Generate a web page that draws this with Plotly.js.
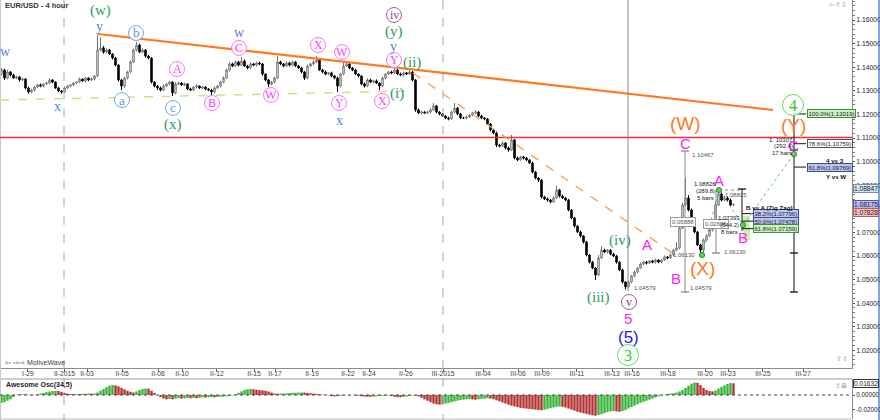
<!DOCTYPE html>
<html><head><meta charset="utf-8">
<script src="https://cdn.plot.ly/plotly-3.0.1.min.js"></script>
<style>html,body{margin:0;padding:0;background:#fff}#chart{width:880px;height:420px}</style>
</head><body><div id="chart"></div>
<script>
// ---- DATA (EUR/USD 4h) ----
const firstOpen = 1.1370;
const closes = [
1.1388,1.1354,1.1380,1.1367,1.1354,1.1359,1.1346,1.1350,1.1312,1.1295,
1.1303,1.1316,1.1325,1.1320,1.1329,1.1333,1.1346,1.1337,1.1312,1.1299,
1.1295,1.1312,1.1320,1.1325,1.1333,1.1337,1.1350,1.1342,1.1354,1.1346,
1.1350,1.1363,1.1473,1.1482,1.1464,1.1473,1.1456,1.1439,1.1409,1.1346,
1.1320,1.1354,1.1380,1.1422,1.1473,1.1494,1.1464,1.1473,1.1447,1.1439,
1.1337,1.1320,1.1312,1.1303,1.1320,1.1329,1.1337,1.1291,1.1329,1.1333,
1.1325,1.1329,1.1308,1.1303,1.1316,1.1320,1.1312,1.1316,1.1308,1.1303,
1.1295,1.1312,1.1320,1.1337,1.1354,1.1388,1.1414,1.1405,1.1422,1.1409,
1.1426,1.1405,1.1397,1.1414,1.1409,1.1418,1.1414,1.1371,1.1346,1.1329,
1.1337,1.1354,1.1422,1.1414,1.1405,1.1418,1.1409,1.1422,1.1405,1.1397,
1.1380,1.1354,1.1405,1.1414,1.1422,1.1430,1.1388,1.1380,1.1371,1.1376,
1.1363,1.1354,1.1320,1.1371,1.1405,1.1414,1.1397,1.1388,1.1371,1.1363,
1.1329,1.1320,1.1346,1.1337,1.1342,1.1333,1.1320,1.1354,1.1371,1.1380,
1.1376,1.1388,1.1371,1.1367,1.1376,1.1371,1.1380,1.1346,1.1219,1.1206,
1.1210,1.1206,1.1210,1.1219,1.1236,1.1210,1.1202,1.1193,1.1185,1.1181,
1.1210,1.1227,1.1202,1.1185,1.1185,1.1189,1.1197,1.1206,1.1210,1.1193,
1.1185,1.1181,1.1159,1.1134,1.1121,1.1070,1.1066,1.1079,1.1058,1.1049,
1.1092,1.1015,1.1007,1.1020,1.1015,1.1007,1.0994,1.0956,1.0930,1.0922,
1.0850,1.0842,1.0837,1.0829,1.0846,1.0880,1.0854,1.0846,1.0837,1.0795,
1.0761,1.0727,1.0702,1.0685,1.0659,1.0604,1.0574,1.0549,1.0520,1.0592,
1.0625,1.0617,1.0625,1.0608,1.0600,1.0574,1.0541,1.0490,1.0469,1.0490,
1.0515,1.0532,1.0549,1.0566,1.0574,1.0570,1.0579,1.0574,1.0583,1.0574,
1.0583,1.0596,1.0592,1.0604,1.0625,1.0634,1.0719,1.0816,1.0846,1.0795,
1.0744,1.0702,1.0647,1.0625,1.0668,1.0685,1.0710,1.0744,1.0816,1.0863,
1.0837,1.0846,1.0837,1.0816,1.0818];
// upper / lower wick lengths in pips
const upWickPips = [
8,5,10,4,6,5,4,6,3,5, 6,4,5,6,3,5,7,4,3,5, 4,6,5,3,5,4,6,3,5,4,
5,4,64,46,8,6,5,4,5,3, 4,6,5,7,6,13,6,8,4,5, 3,4,5,6,7,5,6,4,8,5,
4,6,3,5,4,6,4,5,3,4, 5,6,4,5,7,6,8,5,6,4, 17,6,5,7,4,6,5,4,3,4,
5,6,25,6,4,7,5,6,4,5, 4,3,6,5,7,17,4,5,6,4, 5,4,6,5,17,6,5,4,5,3,
4,6,7,5,4,6,3,6,5,4, 5,13,4,6,5,4,8,4,3,6, 5,4,6,7,12,5,4,3,4,5,
6,21,5,4,5,6,4,5,9,4, 5,4,3,5,4,6,5,7,4,5, 21,4,6,5,4,5,3,6,4,5,
4,5,6,4,7,17,5,6,4,5, 4,5,3,6,4,5,4,5,3,12, 17,6,5,4,6,5,4,5,3,6,
5,6,4,7,5,6,4,5,6,4, 5,6,4,7,6,25,8,10,84,12, 6,5,4,5,6,7,5,8,10,21,
6,8,5,7,4];
const downWickPips = [
6,8,5,6,4,5,7,4,6,8, 5,6,4,5,6,3,5,6,4,5, 8,5,4,6,5,3,5,4,6,5,
4,6,5,6,7,5,4,6,5,7, 17,8,6,5,4,6,5,4,6,5, 6,5,8,6,4,5,4,13,6,5,
4,5,6,4,5,6,4,5,6,4, 13,5,4,6,5,4,6,5,4,6, 5,4,6,5,4,6,5,7,6,13,
6,5,4,6,5,4,6,5,4,5, 6,8,5,4,6,5,4,6,5,4, 6,5,25,6,5,4,6,5,4,6,
5,6,4,5,6,4,17,5,6,4, 5,6,4,5,6,4,5,6,8,5, 6,4,5,6,4,5,6,4,5,6,
4,5,6,4,5,6,4,5,4,6, 5,6,4,6,5,8,6,5,6,7, 4,6,5,4,6,5,4,6,5,8,
6,5,7,6,4,5,6,4,5,6, 5,6,4,7,6,5,6,5,22,6, 5,4,6,5,4,6,5,6,11,6,
4,5,6,4,5,6,4,5,6,4, 5,4,6,5,4,5,6,4,5,6, 5,6,4,12,12,5,4,6,5,4,
6,5,4,6,5];
// Awesome Oscillator (34,5), in units of 0.001
const aoMilli = [
-11,-10,-8,-6,-3,0.5,1,1.2,1,0.5,-0.5,-0.3,
1,2,3,4,5,5.5,5.8,5.5,4.5,3,2,1.5,
1.2,1.4,1.6,1.5,1.8,2,1.9,2.2,3.5,6,8.5,11,13,14,
13.5,12,10,8,6,4.5,3.5,5,7,8.5,9,8.8,6,3,0,-3,-5,
-6,-5.5,-6,-5,-4.5,-5,-4.8,-4.5,-4.6,-4.2,-4.4,-4,
-3.5,-3.6,-3.2,-3,-3.3,-2.8,-2.5,-2.2,-1.8,-1.2,-0.5,
1,3,5,7,8,8.5,8,7.5,7,6.5,6,5,3.5,2,
1.8,2,2.2,2.4,2.6,3,3.2,3.5,3.6,3.4,
3,2.5,2,1.5,1,0.5,0,-0.5,-1.5,-2,-1.8,-1.2,-0.6,-0.2,
-0.3,-0.2,-0.6,-1.2,-1.8,-2.2,-2.4,-2.5,-2.2,-1.8,-1.5,-1.2,-1,-0.8,
-1.5,-2.5,-3,-3.2,-2.8,-2.2,-1.5,-0.8,-0.5,
-2,-4,-6,-8,-10,-12,-13,-13.5,-13,-12,-11,
-10,-9,-8,-7,-6.5,-6,-5.8,-6.2,-6.5,-6,-5.5,-5,-4.5,
-5,-6,-7.5,-9,-10.5,-12,-13.5,-15,-16,-17,-18,-18.5,-19,-19.5,-20,-20.5,-21,-21.5,
-20.5,-19.5,-18.5,-17.5,-16.5,-16,
-16.5,-17.5,-19,-20.5,-22,-23.5,-24.5,-25.5,-26.5,-27.5,-28.5,-29,
-28,-27,-25.5,-24,-23,-22.5,-23,-23.5,
-22.5,-21,-19,-17,-15,-13,-11,-9.5,-8,-6.5,-5,-3.5,-2,-0.5,
0.5,1.5,2,2.5,3.5,5,7,10,13,16,17.5,
17,14,10,7,5.5,5,
6.5,9,11.5,13.5,15.5,16.8,16.3];
// date axis (bar index of each label)
const tickIdx  = [8.8,21,28.5,40.2,52.2,60.2,71.8,84.2,91.2,103.5,115.5,122.5,134.8,147.2,160.5,172.2,180.2,191.8,203.5,210.2,222.2,234.5,242.2,253.8,267.2];
const tickText = ['I-29','II-2015','II-03','II-05','II-08','II-10','II-12','II-15','II-17','II-19','II-22','II-24','II-26','III-2015','III-04','III-06','III-09','III-11','III-13','III-16','III-18','III-20','III-23','III-25','III-27'];
const priceTags = [[1.08847,'#cfe6f5','#6f93ad'],[1.08175,'#b9b9f2','#5a5aa8'],[1.07828,'#f5bcbc','#b06060']];
const aoLast = 0.01632;
const fibRight = [['100.0%(1.12019)',1.12019,'#cdf2c4','#3f8f3f'],['78.6%(1.10759)',1.10759,'#ffffff','#555555'],['61.8%(1.09769)',1.09769,'#bcc4f2','#3c4c9c']];
const fibB = [['38.2%(1.07796)',1.07796,'#bcc4f2','#3c4c9c'],['50.0%(1.07478)',1.07478,'#bcc4f2','#3c4c9c'],['61.8%(1.07159)',1.07159,'#cdf2c4','#3f8f3f']];

// ---- build ----
const N = closes.length;
const idx = closes.map((_, i) => i);
const opens = closes.map((c, i) => i === 0 ? firstOpen : closes[i - 1]);
const highs = closes.map((c, i) => Math.max(opens[i], c) + upWickPips[i] * 1e-4);
const lows  = closes.map((c, i) => Math.min(opens[i], c) - downWickPips[i] * 1e-4);
const ao = aoMilli.map(v => v * 1e-3);
const aoCol = aoMilli.map((v, i) => (i === 0 || v >= aoMilli[i - 1]) ? '#3cb43c' : '#b43434');

const W = 880, H = 420, PW = 852;
const X = px => px / W, Y = py => 1 - py / H;
const pyPrice = p => 20 + (1.16 - p) * 2360;
const SANS = 'Liberation Sans';

const shapes = [];
function line(x0, y0, x1, y1, color, w, dash) {
  shapes.push({type: 'line', xref: 'paper', yref: 'paper', x0: X(x0), y0: Y(y0), x1: X(x1), y1: Y(y1),
    line: {color: color, width: w, dash: dash || 'solid'}});
}
function circ(cx, cy, r, color, fill) {
  shapes.push({type: 'circle', xref: 'paper', yref: 'paper', x0: X(cx - r), x1: X(cx + r), y0: Y(cy + r), y1: Y(cy - r),
    line: {color: color, width: 1}, fillcolor: fill || 'rgba(0,0,0,0)'});
}
const ann = [];
function txt(px, py, t, color, size, family, xa, extra) {
  ann.push(Object.assign({xref: 'paper', yref: 'paper', x: X(px), y: Y(py), text: t, showarrow: false,
    xanchor: xa || 'center', yanchor: 'middle', font: {color: color, size: size, family: family || SANS}}, extra || {}));
}

// frame / separators
line(0, 379, PW, 379, '#9a9a9a', 1);
line(0, 419, PW, 419, '#bbbbbb', 1);
line(0.5, 0, 0.5, 420, '#c8c8c8', 1);
line(879, 0, 879, 420, '#3a66c4', 1.2);
// dashed month separators
line(64, 0, 64, 420, '#a8a8a8', 1, 'dash');
line(443, 0, 443, 420, '#a8a8a8', 1, 'dash');
// trend lines
line(0, 100, 410, 91, '#cde38a', 1.5, 'dash');
line(98, 34, 773, 110, '#ff7a1f', 2.2);
line(0, 137.5, PW, 137.5, '#ff2a2a', 1.5);
line(413, 73, 678, 257, '#ff9a50', 1.3, 'dash');
// vertical gray at wave 5 low
line(628, 0, 628, 291, '#8a8a8a', 1);
// measure tools (gray)
line(685, 151, 685, 292, '#8a8a8a', 1); line(681, 151, 689, 151, '#666', 1); line(681, 292, 689, 292, '#666', 1);
line(716, 190, 716, 253, '#8a8a8a', 1); line(712, 253, 720, 253, '#666', 1);
// B vs A fib tool
shapes.push({type: 'rect', xref: 'paper', yref: 'paper', x0: X(743), x1: X(750), y0: Y(240), y1: Y(216), fillcolor: 'rgba(160,235,130,0.6)', line: {width: 0}});
line(742, 189, 742, 231, '#111', 1); line(738, 189, 746, 189, '#111', 1.3);
fibB.forEach(f => line(742, pyPrice(f[1]), 753, pyPrice(f[1]), '#111', 1));
// Y vs W fib tool
line(794, 106, 794, 292, '#111', 1);
[108, 150, 253, 292].forEach(y => line(790, y, 798, y, '#111', 1.3));
fibRight.forEach(f => line(794, pyPrice(f[1]), 806, pyPrice(f[1]), '#111', 1));
// teal dotted projection
line(702, 255, 719, 190, '#5ab8c8', 1, 'dot');
line(719, 190, 743, 225, '#5ab8c8', 1, 'dot');
line(743, 225, 794, 154, '#5ab8c8', 1, 'dot');
line(719, 190, 742, 190, '#888', 1, 'dot');
// green pivot dots
[[702, 255], [719, 190], [743, 225], [794, 154]].forEach(p => circ(p[0], p[1], 2.6, '#2f8f2f', '#5cd05c'));
// yellow dots at fib box ends
fibB.forEach(f => circ(790, pyPrice(f[1]), 2, '#a09020', '#f2e040'));

// ---- wave labels ----
const ST = {
  g:  {c: '#2f9a62', f: 'Liberation Serif', s: 15},
  b:  {c: '#4f86ea', f: 'Liberation Serif', s: 14},
  bc: {c: '#5b8ff0', f: 'Liberation Serif', s: 13, r: 7.5, rc: '#7aa4f2'},
  m:  {c: '#ff3dff', f: 'Liberation Serif', s: 12, r: 7.5, rc: '#ff70ff'},
  p:  {c: '#8e3f8e', f: 'Liberation Serif', s: 12, r: 7.5, rc: '#a060a0'},
  M:  {c: '#ff22f6', f: 'Liberation Sans', s: 15},
  o:  {c: '#ff7a1f', f: 'Liberation Sans', s: 19},
  B5: {c: '#1c1ce8', f: 'Liberation Sans', s: 17},
  G:  {c: '#2ec82e', f: 'Liberation Serif', s: 16, r: 10.5, rc: '#5ede5e'}
};
const waveLabels = [
  ['(w)',100,10,'g'],['y',99,27,'b'],['w',5,51,'b'],['x',57,106,'b'],
  ['a',122,100,'bc'],['b',136,33,'bc'],['c',173,108,'bc'],['(x)',173,124,'g'],
  ['A',177,69,'m'],['B',212,103,'m'],['C',239,48,'m'],['w',239,33,'b'],['W',271,95,'m'],
  ['X',318,45,'m'],['W',342,52,'m'],['Y',339,103,'m'],['x',339,120,'b'],
  ['iv',394,15,'p'],['(y)',394,32,'g'],['y',393,46,'b'],['Y',394,60,'m'],['(ii)',412,62,'g'],['(i)',397,93,'g'],['X',382,101,'m'],
  ['(W)',685,123,'o'],['C',685,143,'M'],['(iv)',620,240,'g'],['A',647,244,'M'],['B',676,278,'M'],['(X)',702,268,'o'],
  ['A',719,180,'M'],['B',743,237,'M'],['(iii)',598,297,'g'],['v',629,302,'p'],['5',628,318,'M'],['(5)',628,337,'B5'],
  ['3',628,355,'G'],['4',793,105,'G'],['(Y)',793,125,'o'],['C',793,145,'M']
];
waveLabels.forEach(l => {
  const s = ST[l[3]];
  if (s.r) circ(l[1], l[2], s.r, s.rc, 'rgba(255,255,255,0.85)');
  txt(l[1], l[2], l[0], s.c, s.s, s.f);
});

// small measurement texts
const g6 = '#555';
txt(690, 155, '1.10467', g6, 6, null, 'left');
txt(632, 288, '1.04579', g6, 6, null, 'left');
txt(688, 288, '1.04579', g6, 6, null, 'left');
txt(697, 255, '1.06130', g6, 6, null, 'right');
txt(722, 252, '1.06130', g6, 6, null, 'left');
txt(683, 222, '0.05888', g6, 6, null, 'center', {bgcolor: '#fff', bordercolor: '#999', borderwidth: 1, borderpad: 1});
txt(716, 224, '0.02696', g6, 6, null, 'center', {bgcolor: '#fff', bordercolor: '#999', borderwidth: 1, borderpad: 1});
txt(723, 195, '1.08825', g6, 6, null, 'left');
txt(705, 184, '1.08826', '#222', 6); txt(705, 191, '(289.8)', '#222', 6); txt(705, 198, '5 bars', '#222', 6);
txt(729, 218, '1.07393', '#222', 6); txt(729, 225, '(544.2)', '#222', 6); txt(729, 232, '8 bars', '#222', 6);
txt(781, 140, '1. 10307', '#222', 6); txt(783, 146, '(292.4)', '#222', 6); txt(782, 153, '17 bars', '#222', 6);
fibRight.forEach(f => txt(807, pyPrice(f[1]), f[0], '#222', 6, null, 'left', {bgcolor: f[2], bordercolor: f[3], borderwidth: 1, borderpad: 0.5}));
fibB.forEach(f => txt(753, pyPrice(f[1]), f[0], '#222', 6, null, 'left', {bgcolor: f[2], bordercolor: f[3], borderwidth: 1, borderpad: 0.5}));
txt(769, 207, '<b>B vs A (Zig Zag)</b>', '#111', 6.2);
txt(835, 160, '<b>4 vs 3</b>', '#111', 6.2);
txt(836, 176, '<b>Y vs W</b>', '#111', 6.2);
// header / footer texts
txt(3, 6, '<b>EUR/USD - 4 hour</b>', '#333', 7.5, null, 'left');
txt(3, 362, '⇦ ⇨⇨ MotiveWave', '#444', 7, null, 'left');
txt(4, 385, '<b>Awesome Osc(34,5)</b>', '#222', 7, null, 'left');
txt(838, 5, '⇦⇧⇩', '#999', 7);
txt(842, 358, '⇧⇩', '#999', 7);
txt(841, 385, '⇧⊠', '#999', 7);
// price tags on the axis
priceTags.forEach(t => txt(853, pyPrice(t[0]), t[0].toFixed(5), '#222', 6.6, null, 'left', {bgcolor: t[1], bordercolor: t[2], borderwidth: 1, borderpad: 0}));

const traces = [
  {type: 'candlestick', x: idx, open: opens, high: highs, low: lows, close: closes, xaxis: 'x', yaxis: 'y',
   increasing: {line: {color: '#727272', width: 1}, fillcolor: '#ffffff'},
   decreasing: {line: {color: '#000000', width: 1}, fillcolor: '#000000'},
   whiskerwidth: 0, hoverinfo: 'skip', showlegend: false},
  {type: 'bar', x: idx, y: ao, xaxis: 'x', yaxis: 'y2', marker: {color: aoCol, line: {width: 0}}, width: 0.8,
   hoverinfo: 'skip', showlegend: false}
];

const layout = {
  width: W, height: H, margin: {l: 0, r: 0, t: 0, b: 0}, paper_bgcolor: '#fff', plot_bgcolor: '#fff',
  showlegend: false, font: {family: SANS, size: 7, color: '#222'},
  xaxis: {domain: [0, PW / W], range: [-0.5, 283.5], anchor: 'y', tickmode: 'array', tickvals: tickIdx, ticktext: tickText,
    ticks: 'outside', ticklen: 3, tickcolor: '#666', showline: true, linecolor: '#8c8c8c', showgrid: false, zeroline: false,
    ticklabelstandoff: -4,
    rangeslider: {visible: false}, tickfont: {size: 6.8, color: '#444', family: SANS}, fixedrange: true},
  yaxis: {domain: [52 / H, 1], range: [1.16 - 348 / 2360, 1.16 + 20 / 2360], side: 'right', anchor: 'x',
    tick0: 1.0, dtick: 0.01, tickformat: '.5f', ticks: 'outside', ticklen: 2, tickcolor: '#555',
    minor: {dtick: 0.002, ticks: 'outside', ticklen: 2, tickcolor: '#777'},
    showline: true, linecolor: '#8c8c8c', showgrid: false, zeroline: false, tickfont: {size: 6.8, color: '#222', family: SANS}, fixedrange: true},
  yaxis2: {domain: [1 / H, 41 / H], range: [-0.0336, 0.0224], side: 'right', anchor: 'x',
    tickmode: 'array', tickvals: [0, -0.02], ticktext: ['0.00000', '-0.02000'], ticks: 'outside', ticklen: 2, tickcolor: '#555',
    showline: true, linecolor: '#8c8c8c', showgrid: false, zeroline: false, tickfont: {size: 6.3, color: '#222', family: SANS}, fixedrange: true},
  shapes: shapes.concat([
    {type: 'line', xref: 'paper', yref: 'y2', x0: 0, x1: PW / W, y0: 0, y1: 0, line: {color: '#444', width: 1, dash: 'dot'}}
  ]),
  annotations: ann.concat([
    {xref: 'paper', yref: 'y2', x: X(853), y: aoLast, text: aoLast.toFixed(5), showarrow: false, xanchor: 'left', yanchor: 'middle',
     font: {size: 6.6, color: '#222', family: SANS}, bgcolor: '#fff', bordercolor: '#333', borderwidth: 1, borderpad: 0}
  ])
};

Plotly.newPlot('chart', traces, layout, {staticPlot: true, displayModeBar: false});
</script>
</body></html>
